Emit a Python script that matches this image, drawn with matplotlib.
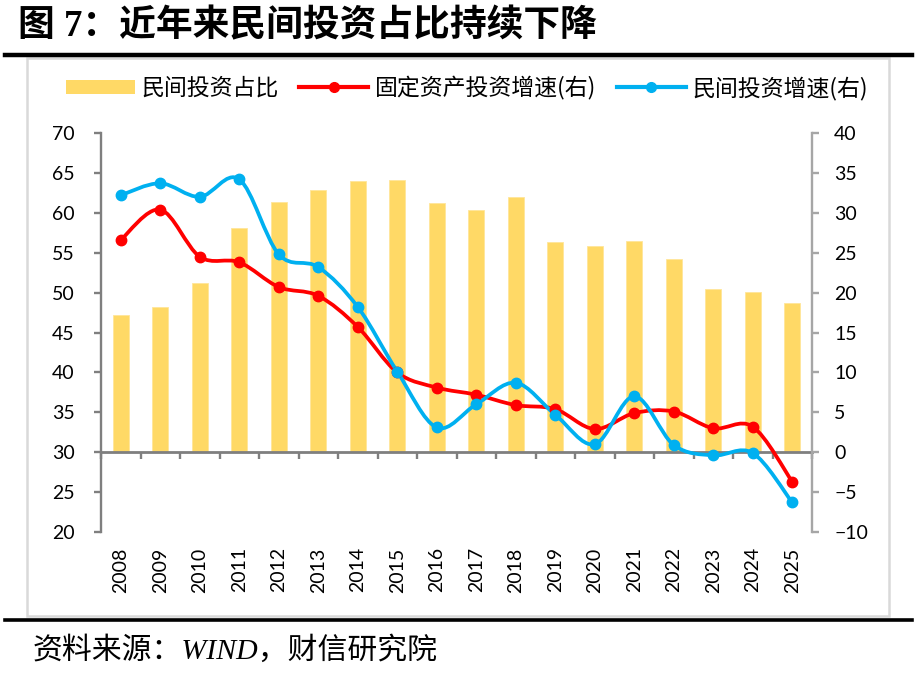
import numpy as np
import matplotlib
matplotlib.use('Agg')
import matplotlib.pyplot as plt
from matplotlib.path import Path
from matplotlib.patches import PathPatch, Rectangle, Patch
from matplotlib.lines import Line2D

plt.rcParams['font.family'] = ['Lato', 'Noto Sans CJK SC', 'DejaVu Sans']

# data
years = ['2008', '2009', '2010', '2011', '2012', '2013', '2014', '2015', '2016',
         '2017', '2018', '2019', '2020', '2021', '2022', '2023', '2024', '2025']
share = [47.2, 48.2, 51.2, 58.1, 61.4, 62.9, 64.0, 64.1, 61.2,
         60.4, 62.0, 56.4, 55.8, 56.5, 54.2, 50.4, 50.1, 48.7]
fai_growth = [26.6, 30.4, 24.5, 23.8, 20.7, 19.6, 15.7, 10.0, 8.1,
              7.2, 5.9, 5.4, 2.9, 4.9, 5.1, 3.0, 3.2, -3.7]
pri_growth = [32.2, 33.7, 32.0, 34.2, 24.8, 23.2, 18.2, 10.1, 3.1,
              6.0, 8.7, 4.7, 1.0, 7.0, 0.9, -0.4, -0.1, -6.3]

C_BAR = '#FFD966'
C_RED = '#FF0000'
C_BLUE = '#00B0F0'
BASE = 30  # category axis crosses the left axis here (right axis 0)


def smooth_path(xs, ys):
    # excel-like smoothed line: catmull-rom as cubic bezier
    p = np.column_stack([xs, ys]).astype(float)
    n = len(p)
    verts = [p[0]]
    codes = [Path.MOVETO]
    for i in range(n - 1):
        p0 = p[i - 1] if i > 0 else p[i]
        p3 = p[i + 2] if i + 2 < n else p[i + 1]
        c1 = p[i] + (p[i + 1] - p0) / 6.0
        c2 = p[i + 1] - (p3 - p[i]) / 6.0
        verts += [c1, c2, p[i + 1]]
        codes += [Path.CURVE4] * 3
    return Path(verts, codes)


fig = plt.figure(figsize=(9.15, 6.75), dpi=100)

# title + rules + frame
fig.text(18/915, 1-27/675, '图 7：近年来民间投资占比持续下降', fontsize=26.5, fontweight='heavy',
         family=['Liberation Serif', 'Noto Sans CJK SC'], va='center', ha='left')
fig.add_artist(Line2D([5/915, 912/915], [1-55/675, 1-55/675], color='black', lw=3.2,
                      transform=fig.transFigure))
fig.add_artist(Rectangle((27/915, 1-616/675), (889-27)/915, (616-58)/675, fill=False,
                         edgecolor='#D9D9D9', lw=1.8, transform=fig.transFigure))
fig.add_artist(Line2D([5/915, 912/915], [1-620/675, 1-620/675], color='black', lw=2.6,
                      transform=fig.transFigure))
fig.text(33/915, 1-651/675, '资料来源：WIND，财信研究院', fontsize=21.5, style='italic',
         family=['Liberation Serif', 'Noto Sans CJK SC'], va='center', ha='left')

ax = fig.add_axes([101/915, 1-532/675, (812-101)/915, (532-133)/675])
ax2 = ax.twinx()

x = np.arange(len(years))
ax.bar(x, np.array(share) - BASE, bottom=BASE, width=0.41, color=C_BAR,
       edgecolor='#FFE699', lw=0.6, zorder=1)
ax.set_xlim(-0.5, len(years) - 0.5)
ax.set_ylim(20, 70)
ax.set_yticks(np.arange(20, 71, 5))
ax2.set_ylim(-10, 40)
ax2.set_yticks(np.arange(-10, 41, 5))

# lines on right axis
for vals, col in [(fai_growth, C_RED), (pri_growth, C_BLUE)]:
    ax2.add_patch(PathPatch(smooth_path(x, vals), fill=False, edgecolor=col, lw=2.7,
                            capstyle='round', joinstyle='round', zorder=3))
    ax2.plot(x, vals, 'o', color=col, markersize=7.5, zorder=4)

# spines
for a in (ax, ax2):
    a.spines['top'].set_visible(False)
ax.spines['right'].set_visible(False)
ax2.spines['left'].set_visible(False)
ax2.spines['bottom'].set_visible(False)
ax.spines['left'].set_color('#7F7F7F')
ax.spines['left'].set_linewidth(1.7)
ax2.spines['right'].set_color('#A6A6A6')
ax2.spines['right'].set_linewidth(1.7)
ax.spines['bottom'].set_position(('data', BASE))
ax.spines['bottom'].set_color('#7F7F7F')
ax.spines['bottom'].set_linewidth(2.0)

ax.tick_params(axis='y', direction='out', length=5, width=1.7, color='#7F7F7F',
               labelsize=14, pad=14)
ax2.tick_params(axis='y', direction='out', length=5, width=1.7, color='#A6A6A6',
                labelsize=14, pad=11)
ax.set_xticks(np.arange(-0.5, len(years), 1.0))
ax.tick_params(axis='x', direction='out', length=5, width=1.7, color='#7F7F7F',
               labelbottom=False)

# year labels at the bottom of the plot area
sec = ax.secondary_xaxis(0)
sec.spines['bottom'].set_visible(False)
sec.set_xticks(x, years, rotation=90)
sec.tick_params(length=0, labelsize=14, pad=11)

# legend
handles = [Patch(facecolor=C_BAR, edgecolor='none'),
           Line2D([], [], color=C_RED, lw=3, marker='o', markersize=7),
           Line2D([], [], color=C_BLUE, lw=3, marker='o', markersize=7)]
labels = ['民间投资占比', '固定资产投资增速(右)', '民间投资增速(右)']
fig.legend(handles, labels, loc='center', bbox_to_anchor=(467/915, 1-88/675), ncol=3,
           frameon=False, prop={'family': ['Noto Sans CJK SC'], 'size': 16.5},
           handlelength=3.0, handleheight=0.6, handletextpad=0.3, columnspacing=0.9)

fig.savefig('out.png', dpi=100)
